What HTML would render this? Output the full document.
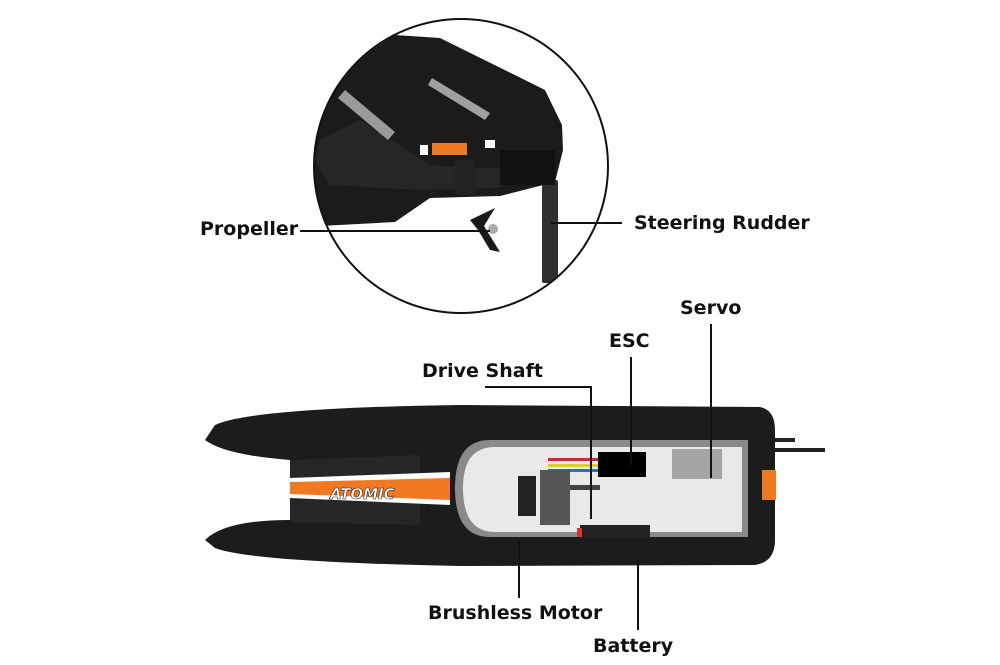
<!DOCTYPE html>
<html><head><meta charset="utf-8"><style>
html,body{margin:0;padding:0;background:#fff;}
svg{display:block}
text{font-family:"DejaVu Sans","Liberation Sans",sans-serif;font-weight:bold;font-size:19px;fill:#111;}
</style></head><body>
<svg width="1000" height="665" viewBox="0 0 1000 665" xmlns="http://www.w3.org/2000/svg">
<defs>
<clipPath id="c"><circle cx="461" cy="166" r="147"/></clipPath>
</defs>
<g clip-path="url(#c)">
  <path d="M300 95 L395 35 L440 38 L545 90 L562 125 L563 150 L555 182 L500 196 L430 198 L395 222 L320 226 L300 224 Z" fill="#1b1b1b"/>
  <path d="M315 160 L330 185 L420 190 L500 188 L520 170 L430 165 L360 120 L320 140 Z" fill="#262626"/>
  <path d="M345 90 L395 132 L388 140 L338 98 Z" fill="#9a9a9a"/>
  <path d="M432 78 L490 113 L485 120 L428 85 Z" fill="#a0a0a0"/>
  <rect x="432" y="143" width="35" height="12" fill="#f07a20"/>
  <rect x="420" y="145" width="8" height="10" fill="#fff"/>
  <rect x="485" y="140" width="10" height="8" fill="#fff"/>
  <rect x="455" y="160" width="20" height="35" fill="#222"/>
  <path d="M470 220 L495 208 L484 226 L500 252 L490 250 L478 230 Z" fill="#1a1a1a"/>
  <circle cx="493" cy="229" r="5" fill="#aaa"/>
  <rect x="542" y="180" width="16" height="103" rx="2" fill="#2f2f2f"/>
  <rect x="500" y="150" width="55" height="35" fill="#111"/>
</g>
<circle cx="461" cy="166" r="147" fill="none" stroke="#111" stroke-width="2"/>
<path d="M215 425 Q250 408 460 405 L760 407 Q775 410 775 430 L775 540 Q775 562 755 565 L460 566 Q250 562 215 548 L205 540 Q225 520 290 520 L290 460 Q225 455 205 440 Z" fill="#1c1c1c"/>
<path d="M290 460 L420 455 L420 525 L290 522 Z" fill="#262626"/>
<path d="M290 478 L450 472 L450 505 L290 498 Z" fill="#ffffff"/>
<path d="M290 482 L450 478 L450 500 L290 494 Z" fill="#ef7a22"/>
<text x="330" y="499" style="font-size:15px;font-style:italic;fill:#fff;stroke:#222;stroke-width:0.6">ATOMIC</text>
<path d="M490 440 L748 440 L748 537 L490 537 Q455 537 455 488 Q455 440 490 440 Z" fill="#8a8a8a"/>
<path d="M495 447 L742 447 L742 532 L495 532 Q463 532 463 488 Q463 447 495 447 Z" fill="#e9e9e9"/>
<rect x="598" y="452" width="48" height="25" fill="#000"/>
<rect x="672" y="449" width="50" height="30" fill="#888" opacity="0.7"/>
<rect x="548" y="458" width="50" height="3" fill="#b33"/>
<rect x="548" y="464" width="50" height="3" fill="#dc3"/>
<rect x="548" y="469" width="50" height="3" fill="#36c"/>
<rect x="518" y="476" width="18" height="40" fill="#222"/>
<rect x="540" y="470" width="30" height="55" fill="#555"/>
<rect x="570" y="485" width="30" height="5" fill="#444"/>
<rect x="580" y="525" width="70" height="12" fill="#222"/>
<rect x="577" y="528" width="5" height="9" fill="#d33"/>
<path d="M775 440 L795 440 M775 450 L825 450" stroke="#222" stroke-width="4"/>
<rect x="762" y="470" width="14" height="30" fill="#ef7a22"/>
<g stroke="#111" stroke-width="2" fill="none">
<path d="M300 231 H490"/>
<path d="M551 223 H622"/>
<path d="M711 324 V478"/>
<path d="M631 357 V465"/>
<path d="M485 387 H591 V519"/>
<path d="M519 540 V598"/>
<path d="M638 560 V630"/>
</g>
<text x="200" y="235">Propeller</text>
<text x="634" y="229">Steering Rudder</text>
<text x="680" y="314">Servo</text>
<text x="609" y="347">ESC</text>
<text x="422" y="377">Drive Shaft</text>
<text x="428" y="619">Brushless Motor</text>
<text x="593" y="652">Battery</text>
</svg>
</body></html>
